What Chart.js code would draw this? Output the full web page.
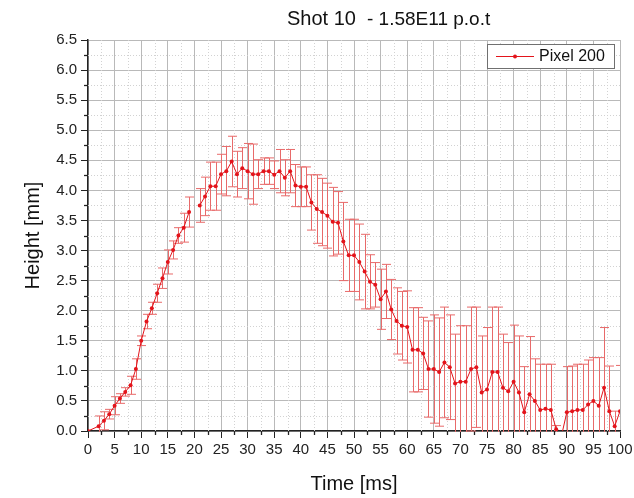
<!DOCTYPE html>
<html>
<head>
<meta charset="utf-8">
<script src="https://cdn.jsdelivr.net/npm/chart.js@4/dist/chart.umd.min.js"></script>
<style>
  html, body { margin: 0; padding: 0; background: #fff; }
  #wrap { width: 634px; height: 498px; }
</style>
</head>
<body>
<div id="wrap"><canvas id="shotChart" width="634" height="498"></canvas></div>
<script>

const times = [0, 2, 3, 4, 5, 6, 7, 8, 9,
  10, 11, 12, 13, 14, 15, 16, 17, 18, 19,
  20, 21, 22, 23, 24, 25, 26, 27, 28, 29,
  30, 31, 32, 33, 34, 35, 36, 37, 38, 39,
  40, 41, 42, 43, 44, 45, 46, 47, 48, 49,
  50, 51, 52, 53, 54, 55, 56, 57, 58, 59,
  60, 61, 62, 63, 64, 65, 66, 67, 68, 69,
  70, 71, 72, 73, 74, 75, 76, 77, 78, 79,
  80, 81, 82, 83, 84, 85, 86, 87, 88, 89,
  90, 91, 92, 93, 94, 95, 96, 97, 98, 99, 100];

const heights = [0, 0.08, 0.17, 0.28, 0.42, 0.54, 0.65, 0.76, 1.03,
  1.5, 1.82, 2.04, 2.29, 2.54, 2.81, 3.01, 3.25, 3.38, 3.64,
  null, 3.75, 3.9, 4.07, 4.07, 4.27, 4.32, 4.48, 4.27, 4.37,
  4.32, 4.27, 4.27, 4.32, 4.32, 4.26, 4.32, 4.21, 4.32, 4.08,
  4.06, 4.06, 3.8, 3.69, 3.64, 3.58, 3.48, 3.46, 3.15, 2.92,
  2.92, 2.81, 2.65, 2.48, 2.43, 2.19, 2.32, 2.02, 1.83, 1.75,
  1.73, 1.35, 1.35, 1.29, 1.03, 1.03, 0.98, 1.14, 1.06, 0.79,
  0.82, 0.82, 1.03, 1.06, 0.64, 0.69, 0.98, 0.98, 0.72, 0.66,
  0.82, 0.64, 0.31, 0.61, 0.5, 0.35, 0.37, 0.35, 0.03, -0.08,
  0.31, 0.33, 0.35, 0.35, 0.44, 0.5, 0.42, 0.72, 0.33, 0.08, 0.33];

const errors = [0, 0.17, 0.15, 0.08, 0.15, 0.08, 0.07, 0.15, 0.17,
  0.08, 0.12, 0.1, 0.15, 0.17, 0.2, 0.15, 0.13, 0.24, 0.25,
  null, 0.28, 0.32, 0.4, 0.4, 0.33, 0.41, 0.42, 0.38, 0.34,
  0.46, 0.5, 0.24, 0.22, 0.22, 0.23, 0.36, 0.3, 0.36, 0.35,
  0.33, 0.33, 0.46, 0.57, 0.56, 0.54, 0.57, 0.52, 0.65, 0.6,
  0.6, 0.63, 0.62, 0.45, 0.37, 0.5, 0.45, 0.5, 0.55, 0.57,
  0.6, 0.7, 0.7, 0.6, 0.8, 0.9, 0.9, 0.92, 0.87, 0.82,
  0.93, 0.93, 1.03, 1.0, 0.94, 1.03, 1.08, 1.08, 0.89, 0.81,
  0.94, 0.94, 0.76, 0.96, 0.7, 0.76, 0.74, 0.76, 0.06, 0,
  0.76, 0.75, 0.76, 0.76, 0.74, 0.72, 0.8, 1.0, 0.75, 0.25, 0.76];

const seriesName = 'Pixel 200';
const titleMain = 'Shot 10';
const titleSub = '- 1.58E11 p.o.t';

/*.............. helpers / plugins ..............*/

const FONT = '"Liberation Sans", Arial, sans-serif';
const RED = '#e3141b';

function strokeLine(ctx, x1, y1, x2, y2) {
  ctx.beginPath();
  ctx.moveTo(x1, y1);
  ctx.lineTo(x2, y2);
  ctx.stroke();
}

// dotted minor grid + small minor ticks
const minorGrid = {
  id: 'minorGrid',
  beforeDatasetsDraw(chart) {
    const { ctx, chartArea: a, scales: { x, y } } = chart;
    ctx.save();
    ctx.lineWidth = 1;
    ctx.strokeStyle = '#d2d2d2';
    ctx.setLineDash([1, 2]);
    for (let v = 2.5; v < 100; v += 5) {
      const px = Math.round(x.getPixelForValue(v)) + 0.5;
      strokeLine(ctx, px, a.top, px, a.bottom);
    }
    for (let v = 0.25; v < 6.5; v += 0.5) {
      const py = Math.round(y.getPixelForValue(v)) + 0.5;
      strokeLine(ctx, a.left, py, a.right, py);
    }
    ctx.setLineDash([]);
    ctx.strokeStyle = '#222';
    ctx.lineWidth = 1.3;
    for (let v = 2.5; v < 100; v += 5) {
      const px = Math.round(x.getPixelForValue(v)) + 0.5;
      strokeLine(ctx, px, a.bottom, px, a.bottom + 4);
    }
    for (let v = 0.25; v < 6.5; v += 0.5) {
      const py = Math.round(y.getPixelForValue(v)) + 0.5;
      strokeLine(ctx, a.left - 4, py, a.left, py);
    }
    ctx.restore();
  }
};

// vertical error bars with caps
const errorBars = {
  id: 'errorBars',
  beforeDatasetsDraw(chart) {
    const { ctx, chartArea: a, scales: { x, y } } = chart;
    ctx.save();
    ctx.beginPath();
    ctx.rect(a.left, a.top, a.width, a.height + 1);
    ctx.clip();
    ctx.strokeStyle = '#e86a6a';
    ctx.lineWidth = 1;
    times.forEach((t, i) => {
      if (heights[i] === null || !errors[i]) return;
      const px = Math.round(x.getPixelForValue(t)) + 0.5;
      const top = y.getPixelForValue(heights[i] + errors[i]);
      const bot = y.getPixelForValue(heights[i] - errors[i]);
      strokeLine(ctx, px, top, px, bot);
      strokeLine(ctx, px - 4.5, top, px + 4.5, top);
      strokeLine(ctx, px - 4.5, bot, px + 4.5, bot);
    });
    ctx.restore();
  }
};

// title with two parts + boxed legend inside the plot
const decorations = {
  id: 'decorations',
  afterDraw(chart) {
    const { ctx } = chart;
    ctx.save();
    ctx.fillStyle = '#111';
    ctx.textBaseline = 'alphabetic';
    ctx.textAlign = 'left';
    ctx.font = '20px ' + FONT;
    ctx.fillText(titleMain, 287, 25);
    ctx.font = '19px ' + FONT;
    ctx.fillText(titleSub, 367, 25);

    // legend
    ctx.fillStyle = '#fff';
    ctx.fillRect(487.5, 44.5, 127, 24);
    ctx.strokeStyle = '#707070';
    ctx.lineWidth = 1;
    ctx.strokeRect(487.5, 44.5, 127, 24);
    ctx.strokeStyle = RED;
    strokeLine(ctx, 496, 56.5, 534, 56.5);
    ctx.fillStyle = RED;
    ctx.beginPath();
    ctx.arc(515, 56.5, 2, 0, Math.PI * 2);
    ctx.fill();
    ctx.fillStyle = '#111';
    ctx.font = '16px ' + FONT;
    ctx.textBaseline = 'middle';
    ctx.fillText(chart.data.datasets[0].label, 539, 57);
    ctx.restore();
  }
};

/*.............. chart ..............*/

const data = {
  datasets: [{
    label: seriesName,
    data: times.map((t, i) => ({ x: t, y: heights[i] })),
    borderColor: RED,
    backgroundColor: RED,
    borderWidth: 1,
    pointRadius: 2,
    pointBorderWidth: 0,
    pointBackgroundColor: RED,
    spanGaps: false,
    tension: 0
  }]
};

const config = {
  type: 'line',
  data: data,
  options: {
    responsive: false,
    animation: false,
    devicePixelRatio: 1,
    layout: { padding: { top: 40, right: 14, left: 0, bottom: 0 } },
    plugins: {
      legend: { display: false },
      tooltip: { enabled: false }
    },
    scales: {
      x: {
        type: 'linear',
        min: 0,
        max: 100,
        ticks: {
          stepSize: 5,
          autoSkip: false,
          maxRotation: 0,
          padding: 3,
          color: '#222',
          font: { family: FONT, size: 15 }
        },
        grid: { color: '#b9b9b9', tickColor: '#222', tickLength: 7, lineWidth: 1 },
        border: { color: '#222', width: 1.5 },
        title: {
          display: true,
          text: 'Time [ms]',
          color: '#111',
          font: { family: FONT, size: 20 },
          padding: { top: 0, bottom: 2 }
        },
        afterFit(scale) {
          scale.height = 67;
          scale.paddingLeft = 0;
          scale.paddingRight = 0;
        }
      },
      y: {
        min: 0,
        max: 6.5,
        ticks: {
          stepSize: 0.5,
          padding: 4,
          color: '#222',
          font: { family: FONT, size: 15 },
          callback: (v) => v.toFixed(1)
        },
        grid: { color: '#b9b9b9', tickColor: '#222', tickLength: 7, lineWidth: 1 },
        border: { color: '#222', width: 1.5 },
        title: {
          display: true,
          text: 'Height [mm]',
          color: '#111',
          font: { family: FONT, size: 20 },
          padding: { top: 21, bottom: 0 }
        },
        afterFit(scale) {
          scale.width = 88;
          scale.paddingTop = 0;
          scale.paddingBottom = 0;
        }
      }
    }
  },
  plugins: [minorGrid, errorBars, decorations]
};

const ctx = document.getElementById('shotChart').getContext('2d');
const shotChart = new Chart(ctx, config);
</script>
</body>
</html>
